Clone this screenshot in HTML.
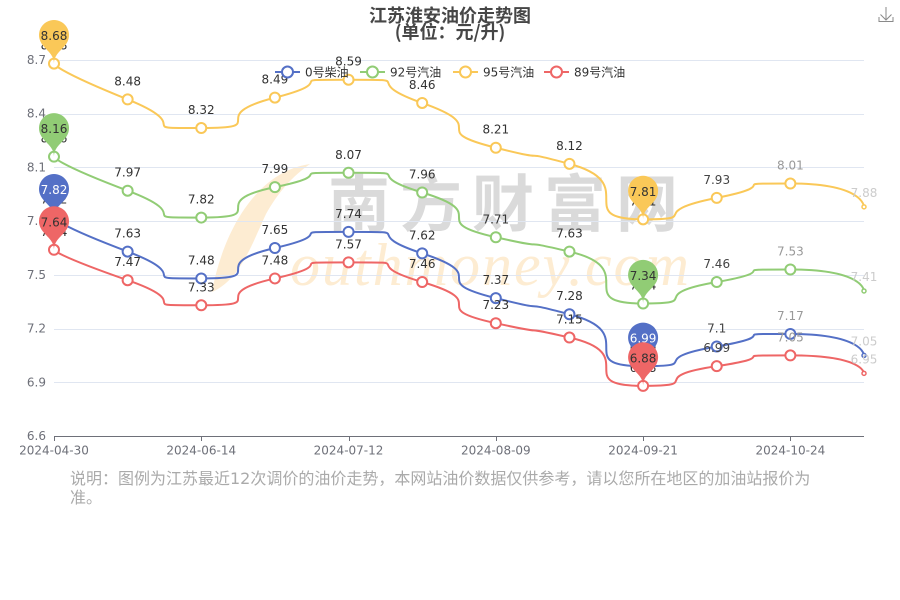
<!DOCTYPE html>
<html><head><meta charset="utf-8"><style>
html,body{margin:0;padding:0;background:#fff;}
svg{display:block;font-family:"DejaVu Sans","Noto Sans CJK SC",sans-serif;}
</style></head><body>
<svg id="c" width="900" height="600" viewBox="0 0 900 600" xmlns="http://www.w3.org/2000/svg">
<rect width="900" height="600" fill="#fff"/>
<!-- watermark -->
<g>
<path d="M310 164 C254 172 222 236 212 292 C240 280 252 244 266 214 C279 191 293 176 310 164 Z" fill="#fdecd2"/>
<text x="290" y="285" font-family="Liberation Serif,serif" font-style="italic" font-size="60" letter-spacing="2" fill="#fdecd2">outhmoney.com</text>
<text x="328" y="226" font-family="Noto Sans CJK SC,sans-serif" font-weight="bold" font-size="62" letter-spacing="10" fill="#dadada">南方财富网</text>
</g>
<!-- title -->
<text x="450" y="22" text-anchor="middle" font-family="Noto Sans CJK SC,sans-serif" font-weight="bold" font-size="18" fill="#464646">江苏淮安油价走势图</text>
<text x="450" y="38.5" text-anchor="middle" font-family="Noto Sans CJK SC,sans-serif" font-weight="bold" font-size="18" fill="#464646">(单位：元/升)</text>
<!-- download icon -->
<g stroke="#8a8a8a" stroke-width="1" fill="none">
<path d="M886 7 V20 M880.5 14.5 L886 20 L891.5 14.5"/>
<path d="M879 17 V21.5 H893 V17"/>
</g>
<g id="grid"></g>
<g id="series"></g>
<g id="pins"></g>
<!-- legend -->
<g id="legend" font-size="12" fill="#333"></g>
<!-- footer -->
<text x="70" y="484" font-size="16" fill="#aaa">说明：图例为江苏最近12次调价的油价走势，本网站油价数据仅供参考，请以您所在地区的加油站报价为</text>
<text x="70" y="503" font-size="16" fill="#aaa">准。</text>
</svg>
<script>
(function(){
var X0=54,X1=864,DX=(X1-X0)/11,Y0=436,YS=53.714;
function yv(v){return Y0-(v-6.6)/0.3*YS;}
function xi(i){return X0+i*DX;}
var g='';
var ticks=[6.6,6.9,7.2,7.5,7.8,8.1,8.4,8.7];
ticks.forEach(function(t){
  var y=Math.round(yv(t))+0.5;
  if(t>6.6) g+='<line x1="54" x2="864" y1="'+y+'" y2="'+y+'" stroke="#E0E6F1" stroke-width="1"/>';
  g+='<text x="46" y="'+(yv(t)+4)+'" text-anchor="end" font-size="12" fill="#6E7079">'+t.toFixed(1)+'</text>';
});
g+='<line x1="54" x2="864" y1="436.5" y2="436.5" stroke="#6E7079" stroke-width="1"/>';
var dates=['2024-04-30','2024-06-14','2024-07-12','2024-08-09','2024-09-21','2024-10-24'];
dates.forEach(function(d,k){
  var x=Math.round(xi(k*2))+0.5;
  g+='<line x1="'+x+'" x2="'+x+'" y1="436" y2="441" stroke="#6E7079" stroke-width="1"/>';
  g+='<text x="'+xi(k*2)+'" y="454.5" text-anchor="middle" font-size="12" fill="#6E7079">'+d+'</text>';
});
document.getElementById('grid').innerHTML=g;

var S=[
 {n:'0号柴油',c:'#5470c6',d:[7.82,7.63,7.48,7.65,7.74,7.62,7.37,7.28,6.99,7.1,7.17,7.05],lt:['#fff','#fff']},
 {n:'92号汽油',c:'#91cc75',d:[8.16,7.97,7.82,7.99,8.07,7.96,7.71,7.63,7.34,7.46,7.53,7.41],lt:['#333','#333']},
 {n:'95号汽油',c:'#fac858',d:[8.68,8.48,8.32,8.49,8.59,8.46,8.21,8.12,7.81,7.93,8.01,7.88],lt:['#333','#333']},
 {n:'89号汽油',c:'#ee6666',d:[7.64,7.47,7.33,7.48,7.57,7.46,7.23,7.15,6.88,6.99,7.05,6.95],lt:['#333','#333']}
];
function smoothPath(pts,smooth){
  var d='',cpx0,cpy0,prevX,prevY;
  for(var k=0;k<pts.length;k++){
    var x=pts[k][0],y=pts[k][1];
    if(k===0){d+='M'+x+','+y;cpx0=x;cpy0=y;}
    else{
      var cpx1,cpy1,nx0,ny0;
      if(k===pts.length-1){cpx1=x;cpy1=y;}
      else{
        var nextX=pts[k+1][0],nextY=pts[k+1][1];
        var vx=nextX-prevX,vy=nextY-prevY;
        var lp=Math.hypot(x-prevX,y-prevY),ln=Math.hypot(nextX-x,nextY-y);
        var r=ln/(ln+lp);
        nx0=x+vx*smooth*r;ny0=y+vy*smooth*r;
        nx0=Math.min(nx0,Math.max(nextX,x));ny0=Math.min(ny0,Math.max(nextY,y));
        nx0=Math.max(nx0,Math.min(nextX,x));ny0=Math.max(ny0,Math.min(nextY,y));
        vx=nx0-x;vy=ny0-y;
        cpx1=x-vx*lp/ln;cpy1=y-vy*lp/ln;
        cpx1=Math.min(cpx1,Math.max(prevX,x));cpy1=Math.min(cpy1,Math.max(prevY,y));
        cpx1=Math.max(cpx1,Math.min(prevX,x));cpy1=Math.max(cpy1,Math.min(prevY,y));
        vx=x-cpx1;vy=y-cpy1;
        nx0=x+vx*ln/lp;ny0=y+vy*ln/lp;
      }
      d+='C'+cpx0+','+cpy0+' '+cpx1+','+cpy1+' '+x+','+y;
      cpx0=nx0;cpy0=ny0;
    }
    prevX=x;prevY=y;
  }
  return d;
}
var labCol=['#333','#333','#333','#333','#333','#333','#333','#333','#333','#444','#999','#ccc'];
var s='';
S.forEach(function(se){
  var pts=se.d.map(function(v,i){return [xi(i),yv(v)];});
  s+='<path d="'+smoothPath(pts,1)+'" fill="none" stroke="'+se.c+'" stroke-width="2" stroke-linejoin="bevel"/>';
  pts.forEach(function(p,i){
    var r=(i===11)?2:5;
    s+='<circle cx="'+p[0]+'" cy="'+p[1]+'" r="'+r+'" fill="#fff" stroke="'+se.c+'" stroke-width="'+(i===11?1.5:2)+'"/>';
  });
  pts.forEach(function(p,i){
    var off=(i===11)?10:14;
    s+='<text x="'+p[0]+'" y="'+(p[1]-off)+'" text-anchor="middle" font-size="12" fill="'+labCol[i]+'">'+se.d[i]+'</text>';
  });
});
document.getElementById('series').innerHTML=s;

function pin(px,py,col){
  var r=15,h=50,dy=r*r/(h-r),cy=py-h+r+dy,a=Math.asin(dy/r),dx=Math.cos(a)*r;
  var tx=Math.sin(a),ty=Math.cos(a),c1=r*0.6,c2=r*0.7;
  return '<path d="M'+(px-dx)+','+(cy+dy)+' A'+r+','+r+' 0 1 1 '+(px+dx)+','+(cy+dy)+
   ' C'+(px+dx-tx*c1)+','+(cy+dy+ty*c1)+' '+px+','+(py-c2)+' '+px+','+py+
   ' C'+px+','+(py-c2)+' '+(px-dx+tx*c1)+','+(cy+dy+ty*c1)+' '+(px-dx)+','+(cy+dy)+' Z" fill="'+col+'"/>';
}
var pp='';
S.forEach(function(se){
  var mx=0,mn=0;
  se.d.forEach(function(v,i){if(v>se.d[mx])mx=i;if(v<se.d[mn])mn=i;});
  [[mx,0],[mn,1]].forEach(function(q){
    var i=q[0],px=xi(i),py=yv(se.d[i]);
    pp+=pin(px,py,se.c);
    pp+='<text x="'+px+'" y="'+(py-23.5)+'" text-anchor="middle" font-size="12" fill="'+se.lt[q[1]]+'">'+se.d[i]+'</text>';
  });
});
document.getElementById('pins').innerHTML=pp;

var L=[[275,305],[360,390],[453,483],[544,574]],l='';
S.forEach(function(se,k){
  var x=L[k][0];
  l+='<line x1="'+x+'" x2="'+(x+25)+'" y1="72" y2="72" stroke="'+se.c+'" stroke-width="2"/>';
  l+='<circle cx="'+(x+12.5)+'" cy="72" r="5.5" fill="#fff" stroke="'+se.c+'" stroke-width="2"/>';
  l+='<text x="'+L[k][1]+'" y="76.5" font-size="12" fill="#333">'+se.n+'</text>';
});
document.getElementById('legend').innerHTML=l;
})();
</script>
</body></html>
